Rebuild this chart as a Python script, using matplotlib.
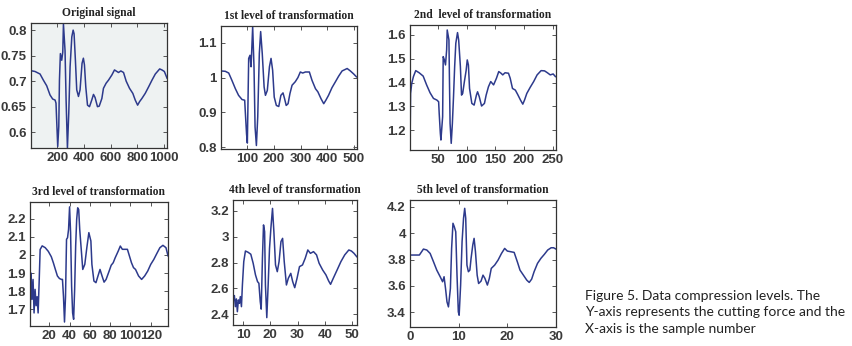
import matplotlib
matplotlib.use("Agg")
import matplotlib.pyplot as plt

# ---------------- data ----------------
orig_x = [1, 31, 69, 94, 119, 144, 164, 182, 189, 194, 202, 210, 215, 222, 232, 240, 245, 257, 265, 275,
          285, 295, 308, 318, 325, 335, 345, 358, 370, 385, 395, 403, 413, 426, 441, 458, 471, 483, 501,
          514, 534, 546, 566, 584, 609, 629, 647, 659, 677, 697, 717, 742, 767, 785, 803, 818, 835, 860,
          886, 911, 936, 969, 986, 1004, 1024]
orig_y = [0.7205, 0.719, 0.714, 0.702, 0.691, 0.673, 0.665, 0.663, 0.657, 0.624, 0.572, 0.611, 0.702,
          0.754, 0.741, 0.757, 0.812, 0.76, 0.663, 0.569, 0.637, 0.728, 0.787, 0.80, 0.793, 0.741, 0.683,
          0.67, 0.683, 0.735, 0.745, 0.732, 0.689, 0.653, 0.65, 0.663, 0.674, 0.668, 0.65, 0.651, 0.666,
          0.686, 0.696, 0.702, 0.712, 0.722, 0.719, 0.717, 0.72, 0.717, 0.70, 0.686, 0.676, 0.663, 0.653,
          0.66, 0.666, 0.676, 0.689, 0.702, 0.714, 0.724, 0.722, 0.719, 0.706]

lvl1_x = [1, 17, 30, 42, 55, 67, 80, 90, 92, 97, 100, 105, 110, 114, 120, 125, 129, 134, 139, 145, 150,
          156, 163, 168, 175, 183, 189, 195, 201, 209, 218, 226, 234, 240, 246, 253, 260, 268, 280, 290,
          299, 308, 318, 333, 343, 356, 365, 377, 387, 395, 405, 418, 431, 443, 456, 475, 487, 500, 510]
lvl1_y = [1.019, 1.018, 1.013, 0.992, 0.968, 0.949, 0.937, 0.935, 0.906, 0.838, 0.812, 1.055, 1.064,
          1.031, 1.146, 1.031, 0.858, 0.805, 0.887, 1.069, 1.132, 1.069, 0.973, 0.949, 0.963, 1.031,
          1.055, 1.021, 0.944, 0.92, 0.917, 0.949, 0.956, 0.939, 0.92, 0.925, 0.954, 0.978, 0.988, 1.0,
          1.016, 1.013, 1.016, 1.016, 0.992, 0.968, 0.959, 0.939, 0.925, 0.935, 0.949, 0.971, 0.988,
          1.004, 1.019, 1.026, 1.019, 1.01, 1.002]

lvl2_x = [1, 2, 4, 7, 11, 17, 24, 30, 36, 42, 48, 51, 52, 54, 55, 58, 59, 61, 63, 65, 66, 69, 70, 71,
          73, 75, 77, 79, 81, 84, 86, 89, 91, 93, 96, 99, 101, 103, 105, 109, 113, 117, 119, 122, 126,
          131, 134, 138, 142, 147, 152, 156, 160, 163, 167, 173, 176, 180, 185, 189, 194, 198, 201, 205,
          211, 217, 223, 230, 236, 241, 246, 251, 255]
lvl2_y = [1.118, 1.354, 1.396, 1.425, 1.45, 1.441, 1.427, 1.39, 1.357, 1.333, 1.326, 1.319, 1.27, 1.186,
          1.158, 1.256, 1.509, 1.495, 1.474, 1.537, 1.621, 1.579, 1.396, 1.228, 1.144, 1.228, 1.34,
          1.467, 1.565, 1.61, 1.579, 1.467, 1.347, 1.354, 1.404, 1.45, 1.495, 1.474, 1.375, 1.312, 1.305,
          1.347, 1.361, 1.34, 1.301, 1.312, 1.347, 1.382, 1.404, 1.39, 1.418, 1.446, 1.439, 1.432, 1.441,
          1.439, 1.418, 1.375, 1.368, 1.35, 1.326, 1.309, 1.326, 1.354, 1.38, 1.404, 1.432, 1.45, 1.449,
          1.441, 1.432, 1.436, 1.425]

lvl3_x = [1, 2, 3, 4, 5, 6, 7, 8, 9, 10, 11, 13, 16, 19, 22, 24, 26, 28, 30, 32, 33, 34, 35, 36, 37,
          38, 39, 40, 41, 42, 43, 44, 45, 46, 47, 48, 49, 50, 52, 53, 55, 57, 59, 61, 62, 64, 66, 68, 70,
          72, 74, 76, 79, 81, 83, 85, 88, 90, 92, 95, 97, 99, 101, 103, 105, 108, 111, 114, 117, 120,
          123, 126, 129, 132, 135, 137]
lvl3_y = [1.61, 1.9, 1.755, 1.865, 1.68, 1.81, 1.72, 1.77, 1.68, 1.847, 2.03, 2.05, 2.04, 2.02, 1.99,
          1.957, 1.92, 1.884, 1.87, 1.865, 1.865, 1.77, 1.63, 1.77, 2.086, 2.095, 2.141, 2.265, 2.123,
          1.829, 1.68, 1.645, 1.81, 2.05, 2.196, 2.26, 2.25, 2.141, 1.994, 1.92, 1.948, 2.04, 2.123,
          2.077, 1.948, 1.856, 1.847, 1.884, 1.92, 1.884, 1.85, 1.865, 1.911, 1.943, 1.957, 1.985, 2.022,
          2.049, 2.031, 2.031, 2.031, 1.994, 1.957, 1.93, 1.92, 1.884, 1.865, 1.884, 1.911, 1.948,
          1.975, 2.008, 2.04, 2.053, 2.04, 1.995]

lvl4_x = [6.43, 6.8, 7.17, 7.54, 7.9, 8.28, 8.65, 9.0, 9.4, 9.75, 10.25, 10.86, 11.85, 12.83, 13.7,
          14.55, 15.3, 15.8, 16.3, 16.65, 17.1, 17.5, 17.9, 18.2, 18.7, 19.2, 19.7, 20.2, 20.8, 21.3,
          21.9, 22.55, 23.2, 23.9, 24.5, 25.1, 25.9, 26.6, 27.5, 28.2, 28.95, 29.8, 30.7, 31.8, 32.8,
          33.75, 34.7, 35.85, 36.95, 37.9, 39.2, 40.4, 41.4, 42.1, 43.1, 44.5, 45.9, 47.3, 48.8, 49.75,
          50.7, 51.7]
lvl4_y = [2.511, 2.545, 2.459, 2.519, 2.42, 2.511, 2.485, 2.537, 2.459, 2.627, 2.808, 2.89, 2.88, 2.865,
          2.795, 2.705, 2.653, 2.64, 2.498, 2.44, 2.834, 3.092, 3.04, 2.627, 2.374, 2.627, 2.91, 3.066,
          3.22, 3.04, 2.782, 2.73, 2.808, 2.963, 2.988, 2.808, 2.627, 2.679, 2.717, 2.653, 2.606, 2.679,
          2.769, 2.782, 2.834, 2.898, 2.872, 2.885, 2.86, 2.795, 2.743, 2.705, 2.658, 2.632, 2.679,
          2.743, 2.808, 2.86, 2.898, 2.89, 2.872, 2.846]

lvl5_x = [0, 1.93, 2.76, 3.45, 4.14, 4.83, 5.5, 6.2, 6.7, 7.0, 7.3, 7.6, 7.9, 8.3, 8.55, 8.83, 9.1, 9.4,
          9.66, 9.93, 10.1, 10.4, 10.7, 11.0, 11.24, 11.45, 11.7, 12.0, 12.3, 12.55, 12.9, 13.17, 13.45,
          13.8, 14.1, 14.6, 15.0, 15.4, 15.9, 16.3, 16.7, 17.4, 18.1, 18.8, 19.45, 20.0, 20.7, 21.4,
          22.1, 22.6, 23.3, 24.0, 24.5, 25.0, 25.5, 26.2, 26.9, 27.6, 28.3, 29.0, 29.5, 30.0]
lvl5_y = [3.834, 3.834, 3.879, 3.872, 3.846, 3.783, 3.72, 3.67, 3.632, 3.67, 3.581, 3.48, 3.442, 3.581,
          3.884, 4.074, 4.048, 4.01, 3.682, 3.405, 3.379, 3.606, 3.935, 4.112, 4.187, 4.112, 3.758,
          3.708, 3.72, 3.809, 3.91, 3.96, 3.859, 3.682, 3.619, 3.637, 3.682, 3.657, 3.607, 3.657, 3.733,
          3.758, 3.796, 3.846, 3.884, 3.864, 3.859, 3.854, 3.778, 3.72, 3.682, 3.644, 3.627, 3.652,
          3.708, 3.771, 3.809, 3.839, 3.872, 3.889, 3.889, 3.879]

titles = ["Original signal", "1st level of transformation", "2nd  level of transformation",
          "3rd level of transformation", "4th level of transformation", "5th level of transformation"]

xticks_list = [[200, 400, 600, 800, 1000], [100, 200, 300, 400, 500], [50, 100, 150, 200, 250],
               [20, 40, 60, 80, 100, 120], [10, 20, 30, 40, 50], [0, 10, 20, 30]]
yticks_list = [[0.6, 0.65, 0.7, 0.75, 0.8], [0.8, 0.9, 1.0, 1.1], [1.2, 1.3, 1.4, 1.5, 1.6],
               [1.7, 1.8, 1.9, 2.0, 2.1, 2.2], [2.4, 2.6, 2.8, 3.0, 3.2], [3.4, 3.6, 3.8, 4.0, 4.2]]
ytick_labels = [["0.6", "0.65", "0.7", "0.75", "0.8"], ["0.8", "0.9", "1", "1.1"],
                ["1.2", "1.3", "1.4", "1.5", "1.6"], ["1.7", "1.8", "1.9", "2", "2.1", "2.2"],
                ["2.4", "2.6", "2.8", "3", "3.2"], ["3.4", "3.6", "3.8", "4", "4.2"]]
xlims = [(1, 1024), (1, 512), (1, 256), (1, 137), (6.3, 51.8), (0, 30)]
ylims = [(0.569, 0.814), (0.795, 1.148), (1.116, 1.642), (1.608, 2.292), (2.317, 3.285), (3.29, 4.25)]

caption = ("Figure 5. Data compression levels. The\n"
           "Y-axis represents the cutting force and the\n"
           "X-axis is the sample number")

# ---------------- layout ----------------
W, H = 853, 346
fig = plt.figure(figsize=(W / 100, H / 100), dpi=100)
fig.patch.set_facecolor("white")

boxes = [(31, 23, 167, 148), (221, 26, 357, 149), (410, 25, 556, 150),
         (30, 202, 168, 326), (233, 200, 357, 325), (410, 200, 556, 327)]
series = [(orig_x, orig_y), (lvl1_x, lvl1_y), (lvl2_x, lvl2_y),
          (lvl3_x, lvl3_y), (lvl4_x, lvl4_y), (lvl5_x, lvl5_y)]

line_color = "#2d3a8c"
for i, (box, (xs, ys)) in enumerate(zip(boxes, series)):
    x0, y0, x1, y1 = box
    ax = fig.add_axes([x0 / W, 1 - y1 / H, (x1 - x0) / W, (y1 - y0) / H])
    ax.set_facecolor("#eef2f2" if i == 0 else "white")
    ax.plot(xs, ys, color=line_color, lw=1.1)
    ax.set_xlim(*xlims[i])
    ax.set_ylim(*ylims[i])
    ax.set_xticks(xticks_list[i])
    ax.set_yticks(yticks_list[i])
    ax.set_yticklabels(ytick_labels[i])
    ax.tick_params(direction="in", length=3, width=0.7, top=True, right=True,
                   labelsize=9.5, labelcolor="#3a3a3a", color="#555555", pad=3)
    for lab in ax.get_xticklabels() + ax.get_yticklabels():
        lab.set_family("Liberation Sans")
        lab.set_fontweight("bold")
    for sp in ax.spines.values():
        sp.set_linewidth(0.9)
        sp.set_color("#333333")
    ax.set_title(titles[i], fontsize=8.3, family="Liberation Serif",
                 fontweight="bold", color="#222222", pad=5)

fig.text(585 / W, 1 - 290 / H, caption, ha="left", va="top", fontsize=10,
         family="Lato", color="#222222", linespacing=1.45)

fig.savefig("out.png", dpi=100, facecolor="white")
